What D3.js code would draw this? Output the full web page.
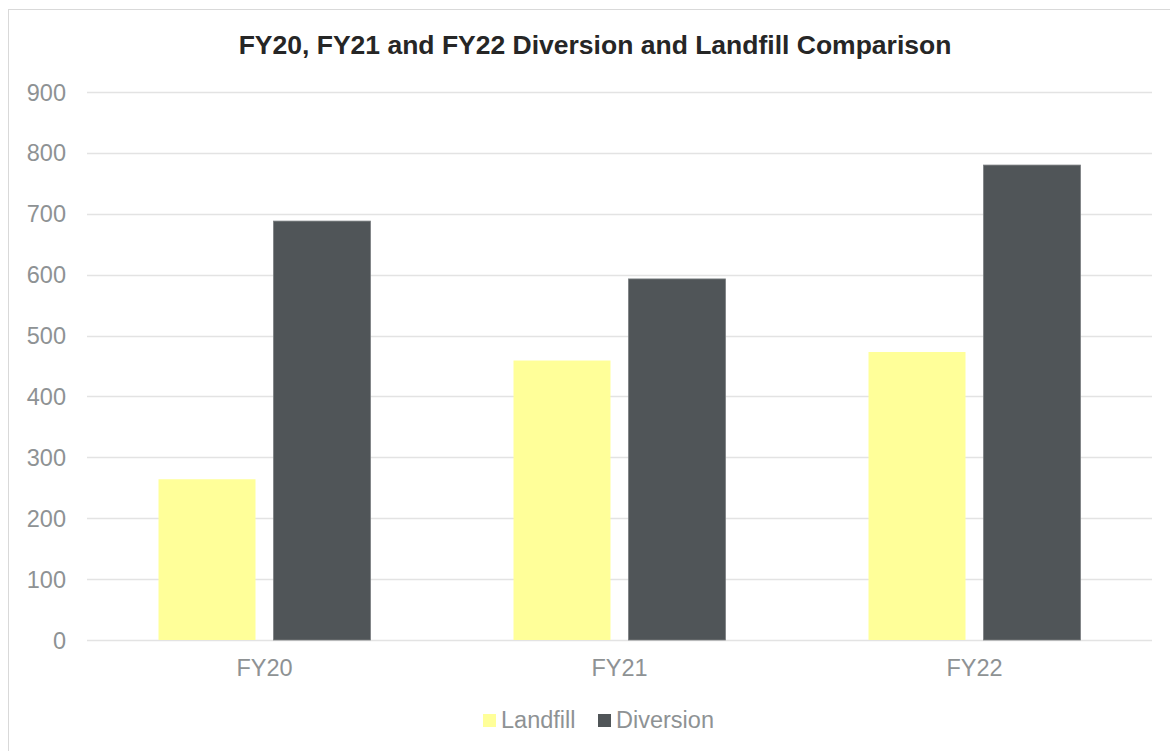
<!DOCTYPE html>
<html>
<head>
<meta charset="utf-8">
<script src="https://cdn.jsdelivr.net/npm/d3@7"></script>
<style>
  body { margin: 0; background: #fff; }
  svg { display: block; font-family: "Liberation Sans", Arial, sans-serif; }
</style>
</head>
<body>
<svg id="chart" width="1170" height="751"></svg>
<script>
const years = ["FY20", "FY21", "FY22"];
const series = ["Landfill", "Diversion"];
const landfill = [264, 459, 473];
const diversion = [688, 593, 780];
const yTicks = [0, 100, 200, 300, 400, 500, 600, 700, 800, 900];
const colors = ["#ffff99", "#505558"];

const svg = d3.select("#chart");
const margin = {left: 87, right: 18, top: 92, bottom: 111};
const W = 1170, H = 751;

// outer frame, runs off the bottom/right edge like the source
svg.append("rect")
  .attr("x", 8.5).attr("y", 9.5)
  .attr("width", 1200).attr("height", 800)
  .attr("fill", "none").attr("stroke", "#d9d9d9").attr("stroke-width", 1);

svg.append("text")
  .attr("x", 595).attr("y", 54)
  .attr("text-anchor", "middle")
  .attr("font-size", "26.5px").attr("font-weight", "bold")
  .attr("fill", "#262626")
  .text("FY20, FY21 and FY22 Diversion and Landfill Comparison");

const x0 = d3.scaleBand().domain(years).range([margin.left, W - margin.right]);
const y = d3.scaleLinear().domain([0, 900]).range([H - margin.bottom, margin.top]);

const bw = 97, gap = 18;
const x1 = d3.scaleOrdinal().domain(series)
  .range([-(bw + gap / 2), gap / 2]);

// gridlines
svg.append("g")
  .selectAll("line")
  .data(yTicks)
  .join("line")
  .attr("x1", margin.left).attr("x2", W - margin.right)
  .attr("y1", d => Math.round(y(d)) + 0.5).attr("y2", d => Math.round(y(d)) + 0.5)
  .attr("stroke", "#e3e3e3").attr("stroke-width", 1.5);

// y labels
svg.append("g")
  .selectAll("text")
  .data(yTicks)
  .join("text")
  .attr("x", 66).attr("y", d => y(d) + 8.5)
  .attr("text-anchor", "end")
  .attr("font-size", "23.5px").attr("fill", "#8e9294")
  .text(d => d);

const rows = years.map((yr, i) => ({year: yr, vals: [landfill[i], diversion[i]]}));

const grp = svg.append("g").selectAll("g")
  .data(rows)
  .join("g")
  .attr("transform", d => "translate(" + (x0(d.year) + x0.bandwidth() / 2) + ",0)");

grp.selectAll("rect")
  .data(d => d.vals.map((v, j) => ({s: series[j], v: v, j: j})))
  .join("rect")
  .attr("x", d => x1(d.s))
  .attr("y", d => y(d.v))
  .attr("width", bw)
  .attr("height", d => y(0) - y(d.v))
  .attr("fill", d => colors[d.j])
  .attr("stroke", d => d.j === 1 ? "#7a7e80" : "none")
  .attr("stroke-width", 0.8);

// x labels
svg.append("g")
  .selectAll("text")
  .data(years)
  .join("text")
  .attr("x", d => x0(d) + x0.bandwidth() / 2)
  .attr("y", 676)
  .attr("text-anchor", "middle")
  .attr("font-size", "23.5px").attr("fill", "#8e9294")
  .text(d => d);

// legend
const legend = [{s: "Landfill", x: 483}, {s: "Diversion", x: 598}];
const lg = svg.append("g").selectAll("g")
  .data(legend)
  .join("g")
  .attr("transform", d => "translate(" + d.x + ",0)");
lg.append("rect")
  .attr("x", 0).attr("y", 714)
  .attr("width", 13).attr("height", 13)
  .attr("fill", (d, i) => colors[i]);
lg.append("text")
  .attr("x", 18).attr("y", 727.5)
  .attr("font-size", "23.5px").attr("fill", "#8e9294")
  .text(d => d.s);
</script>
</body>
</html>
